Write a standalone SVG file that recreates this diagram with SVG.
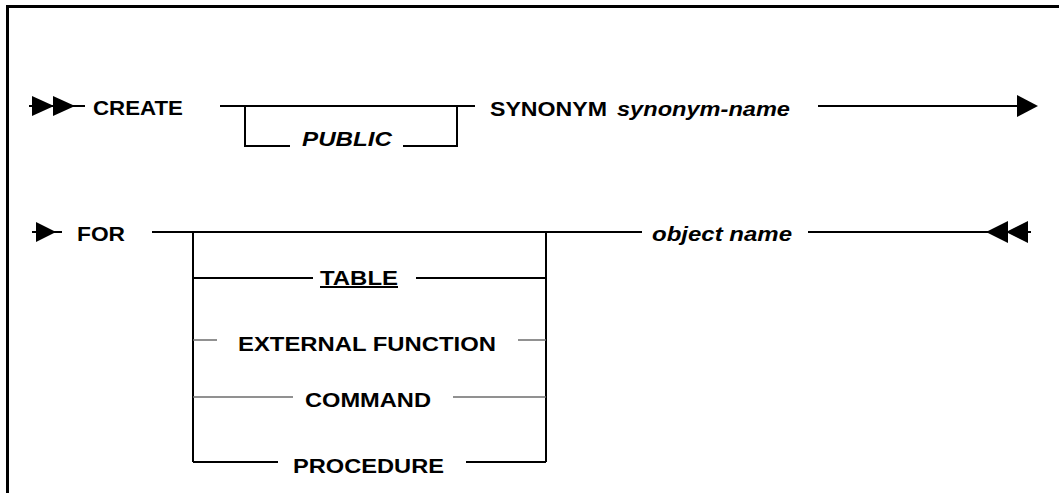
<svg xmlns="http://www.w3.org/2000/svg" width="1059" height="493" viewBox="0 0 1059 493">
<style>
.t{font-family:"Liberation Sans",Arial,sans-serif;font-size:20px;font-weight:bold;fill:#000}
.i{font-style:italic}
.ln{fill:none;stroke:#000;stroke-width:2}
.gl{fill:none;stroke:#6e6e6e;stroke-width:1.6}
.ah{fill:#000;stroke:none}
</style>
<rect width="1059" height="493" fill="#fff"/>
<path fill="none" stroke="#000" stroke-width="3" d="M7.5,493 V6.5 H1059"/>
<g id="connectors">
<path class="ln" d="M29,106 H85"/>
<path class="ah" d="M32,96 L54,106 L32,116 Z"/>
<path class="ah" d="M53,96 L75,106 L53,116 Z"/>
<path class="ln" d="M220,106 H475"/>
<path class="ln" d="M245,106 V146 H290"/>
<path class="ln" d="M403,146 H457 V106"/>
<path class="ln" d="M818,106 H1020"/>
<path class="ah" d="M1017,95 L1038,106 L1017,117 Z"/>
<path class="ln" d="M32,232 H62"/>
<path class="ah" d="M36,222 L56,232 L36,242 Z"/>
<path class="ln" d="M152,232 H642"/>
<path class="ln" d="M808,232 H1031"/>
<path class="ah" d="M1008,221 L986,232 L1008,243 Z"/>
<path class="ah" d="M1028,221 L1006,232 L1028,243 Z"/>
<path class="ln" d="M193,232 V462"/>
<path class="ln" d="M546,232 V462"/>
<path class="ln" d="M193,278 H313 M416,278 H546"/>
<path class="gl" d="M193,340 H217 M518,340 H546"/>
<path class="gl" d="M193,397 H293 M453,397 H546"/>
<path class="ln" d="M193,462 H278 M466,462 H546"/>
</g>
<g id="create"><text class="t" x="93" y="115" textLength="90" lengthAdjust="spacingAndGlyphs">CREATE</text></g>
<g id="public"><text class="t i" x="302" y="146" textLength="90" lengthAdjust="spacingAndGlyphs">PUBLIC</text></g>
<g id="synonym"><text class="t" x="490" y="116" textLength="117" lengthAdjust="spacingAndGlyphs">SYNONYM</text><text class="t i" x="617" y="116" textLength="173" lengthAdjust="spacingAndGlyphs">synonym-name</text></g>
<g id="for"><text class="t" x="77" y="241" textLength="48" lengthAdjust="spacingAndGlyphs">FOR</text></g>
<g id="table"><text class="t" x="320" y="285" textLength="78" lengthAdjust="spacingAndGlyphs" text-decoration="underline">TABLE</text></g>
<g id="external-function"><text class="t" x="238" y="351" textLength="258" lengthAdjust="spacingAndGlyphs">EXTERNAL FUNCTION</text></g>
<g id="command"><text class="t" x="305" y="407" textLength="126" lengthAdjust="spacingAndGlyphs">COMMAND</text></g>
<g id="procedure"><text class="t" x="293" y="473" textLength="151" lengthAdjust="spacingAndGlyphs">PROCEDURE</text></g>
<g id="object-name"><text class="t i" x="652" y="241" textLength="140" lengthAdjust="spacingAndGlyphs">object name</text></g>
</svg>
